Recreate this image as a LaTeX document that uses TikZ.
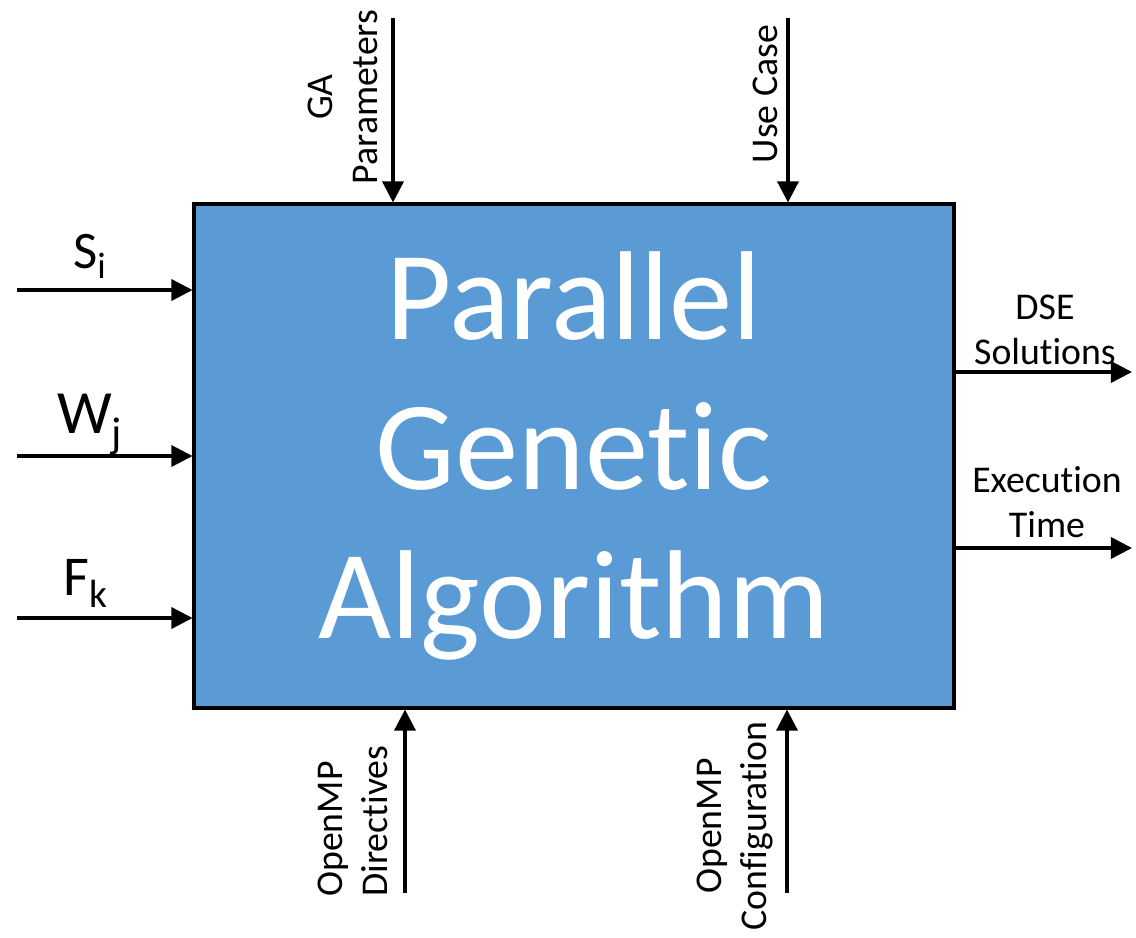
\documentclass[tikz,border=0pt]{standalone}
\usepackage{fontspec}
\setmainfont{Carlito}[Ligatures=NoCommon]
\usepackage{xcolor}
\usepackage{tikz}
\usetikzlibrary{arrows.meta}
\definecolor{pgablue}{HTML}{5B9BD5}

\begin{document}
\begin{tikzpicture}[x=0.02cm,y=-0.02cm,
  io line/.style={-{Triangle[length=12pt,width=12pt]},line width=1.9pt},
  io label/.style={font=\fontsize{21.5}{26}\selectfont,align=center,inner sep=0pt},
  main node/.style={draw,line width=1.8pt,fill=pgablue,text=white,
    minimum width=15.2cm,minimum height=10.08cm,align=center,
    font=\fontsize{72}{85}\selectfont}]
  \useasboundingbox (0,0) rectangle (1136,937);
  \node[main node] (pga) at (574,456) {Parallel\\Genetic\\Algorithm};
  % inputs on the left
  \coordinate (si) at (17,290);
  \coordinate (wj) at (17,456);
  \coordinate (fk) at (17,618);
  \draw[io line] (si) -- (si -| pga.west);
  \draw[io line] (wj) -- (wj -| pga.west);
  \draw[io line] (fk) -- (fk -| pga.west);
  \node[io label,anchor=base,font=\fontsize{30}{34}\selectfont] (si lbl) at (90,268) {S\textsubscript{i}};
  \node[io label,anchor=base,font=\fontsize{35}{40}\selectfont] (wj lbl) at (90,433) {W\textsubscript{j}};
  \node[io label,anchor=base,font=\fontsize{32}{36}\selectfont] (fk lbl) at (86,595) {F\textsubscript{k}};
  % controls on top
  \coordinate (ga) at (393,18);
  \coordinate (usecase) at (788,18);
  \draw[io line] (ga) -- (ga |- pga.north);
  \draw[io line] (usecase) -- (usecase |- pga.north);
  \node[io label,rotate=90] (ga lbl) at (343,97) {GA\\Parameters};
  \node[io label,rotate=90] (usecase lbl) at (765,94) {Use Case};
  % mechanisms at the bottom
  \coordinate (ompd) at (405,893);
  \coordinate (ompc) at (787,893);
  \draw[io line] (ompd) -- (ompd |- pga.south);
  \draw[io line] (ompc) -- (ompc |- pga.south);
  \node[io label,rotate=90,anchor=west,align=left] (ompd lbl) at (353,897) {OpenMP\\Directives};
  \node[io label,rotate=90] (ompc lbl) at (735,826) {OpenMP\\Configuration};
  % outputs on the right
  \coordinate (dse) at (1132,372);
  \coordinate (time) at (1132,548);
  \draw[io line] (dse -| pga.east) -- (dse);
  \draw[io line] (time -| pga.east) -- (time);
  \node[io label] (dse lbl) at (1045,330) {DSE\\Solutions};
  \node[io label] (time lbl) at (1047,502) {Execution\\Time};
\end{tikzpicture}
\end{document}
